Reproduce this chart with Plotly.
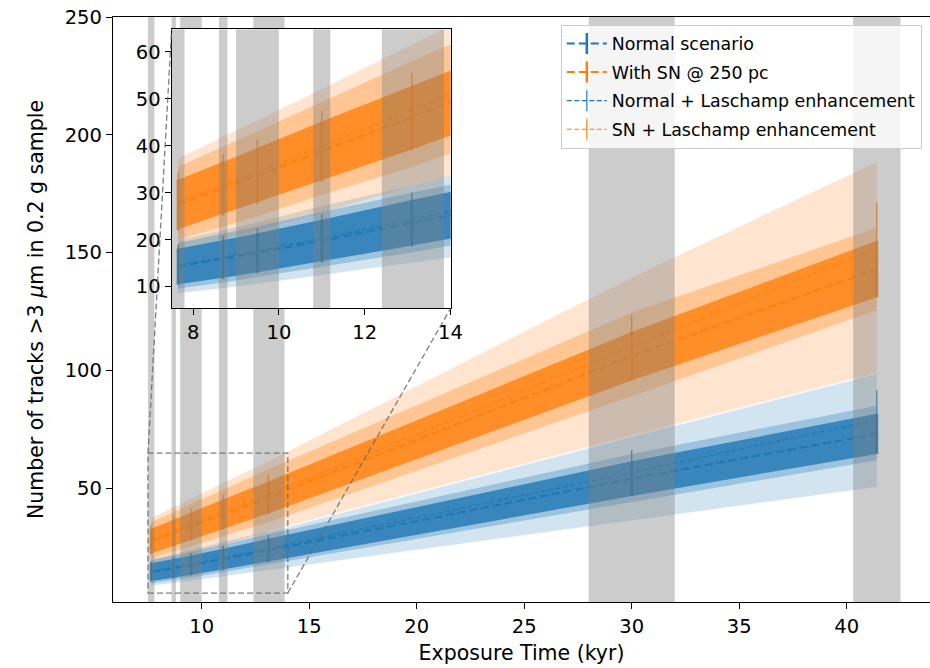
import plotly.graph_objects as go

# ---------------- data ----------------
# exposure times of the samples (kyr)
t_samples = [7.65, 8.7, 9.5, 11.0, 13.1, 30.0, 41.4]
# exposure-age uncertainty intervals (grey bands, kyr)
span_lo = [7.5, 8.6, 9.0, 10.8, 12.4, 28.0, 40.3]
span_hi = [7.8, 8.8, 10.0, 11.2, 13.85, 32.0, 42.5]

# Normal scenario
normal_mid = [14.3, 15.9, 17.2, 19.8, 23.6, 54.0, 73.0]
normal_err = [3.8, 4.0, 4.15, 4.45, 4.85, 7.35, 8.5]
normal_med_lo = [9.6, 10.9, 12.0, 14.2, 17.3, 44.0, 61.8]
normal_med_hi = [19.3, 21.2, 22.8, 25.9, 30.4, 64.5, 85.0]
normal_sys_lo = [8.6, 9.7, 10.6, 12.4, 15.0, 36.2, 50.5]
normal_sys_hi = [19.9, 22.0, 23.7, 27.2, 31.5, 72.0, 98.7]
# Normal + Laschamp enhancement
normal_l_mid = [14.6, 16.2, 17.6, 20.3, 24.3, 56.5, 79.0]
normal_l_err = [4.3, 4.6, 4.8, 5.2, 5.8, 9.5, 12.5]

# With SN @ 250 pc
sn_mid = [27.5, 31.0, 33.7, 38.9, 46.0, 106.0, 143.0]
sn_err = [5.25, 5.55, 5.8, 6.25, 6.8, 10.3, 12.0]
sn_med_lo = [20.0, 22.8, 25.0, 29.5, 35.5, 89.0, 125.5]
sn_med_hi = [35.5, 39.8, 43.0, 49.3, 58.0, 124.5, 160.5]
sn_sys_lo = [17.7, 20.2, 22.0, 25.7, 31.5, 72.0, 98.7]
sn_sys_hi = [37.3, 41.8, 45.4, 52.1, 61.4, 139.4, 188.5]
# SN + Laschamp enhancement
sn_l_mid = [28.0, 31.6, 34.5, 39.9, 47.3, 110.0, 152.0]
sn_l_err = [6.2, 6.6, 6.9, 7.5, 8.3, 13.5, 19.5]

legend_names = ["Normal scenario", "With SN @ 250 pc",
                "Normal + Laschamp enhancement", "SN + Laschamp enhancement"]

# axis ranges
X_RANGE = [5.874, 43.874]
Y_RANGE = [1.6, 250.05]
INSET_X = [7.5, 14.005]
INSET_Y = [5.4, 64.8]
INSET_DOM_X = [0.0718, 0.4133]
INSET_DOM_Y = [0.5021, 0.979]

C0 = "#1f77b4"
C1 = "#ff7f0e"


def rgba(hexc, a):
    h = hexc.lstrip("#")
    r, g, b = int(h[0:2], 16), int(h[2:4], 16), int(h[4:6], 16)
    return f"rgba({r},{g},{b},{a})"


fig = go.Figure()


def band(x, lo, hi, color, alpha, xa, ya):
    fig.add_trace(go.Scatter(
        x=list(x) + list(x)[::-1], y=list(hi) + list(lo)[::-1],
        fill="toself", fillcolor=rgba(color, alpha), mode="lines",
        line=dict(width=0), hoverinfo="skip", showlegend=False,
        xaxis=xa, yaxis=ya))


def errline(x, y, err, color, width, dash, ethick, xa, ya):
    fig.add_trace(go.Scatter(
        x=x, y=y, mode="lines",
        line=dict(color=color, width=width, dash=dash),
        error_y=dict(type="data", array=err, symmetric=True,
                     thickness=ethick, width=0, color=color),
        hoverinfo="skip", showlegend=False, xaxis=xa, yaxis=ya))


def spans(xa, ya, yr):
    xs, ys = [], []
    for a, b in zip(span_lo, span_hi):
        xs += [a, b, b, a, None]
        ys += [yr[0], yr[0], yr[1], yr[1], None]
    fig.add_trace(go.Scatter(
        x=xs, y=ys, fill="toself", fillcolor="rgba(128,128,128,0.4)",
        mode="lines", line=dict(width=0), hoverinfo="skip",
        showlegend=False, xaxis=xa, yaxis=ya))


nd_lo = [m - e for m, e in zip(normal_mid, normal_err)]
nd_hi = [m + e for m, e in zip(normal_mid, normal_err)]
sd_lo = [m - e for m, e in zip(sn_mid, sn_err)]
sd_hi = [m + e for m, e in zip(sn_mid, sn_err)]

for xa, ya, yr in [("x", "y", Y_RANGE), ("x2", "y2", INSET_Y)]:
    band(t_samples, normal_sys_lo, normal_sys_hi, C0, 0.2, xa, ya)
    band(t_samples, sn_sys_lo, sn_sys_hi, C1, 0.2, xa, ya)
    band(t_samples, normal_med_lo, normal_med_hi, C0, 0.3, xa, ya)
    band(t_samples, sn_med_lo, sn_med_hi, C1, 0.3, xa, ya)
    band(t_samples, nd_lo, nd_hi, C0, 0.8, xa, ya)
    band(t_samples, sd_lo, sd_hi, C1, 0.8, xa, ya)
    if xa == "x":
        fig.add_trace(go.Scatter(
            x=t_samples[4:], y=normal_sys_hi[4:], mode="lines",
            line=dict(color="rgba(255,255,255,0.9)", width=1.4),
            hoverinfo="skip", showlegend=False, xaxis=xa, yaxis=ya))
    errline(t_samples, normal_l_mid, normal_l_err, C0, 1.1, "5px,2.5px", 1.2, xa, ya)
    errline(t_samples, sn_l_mid, sn_l_err, C1, 1.1, "5px,2.5px", 1.2, xa, ya)
    errline(t_samples, normal_mid, normal_err, C0, 2.0, "8px,4px", 2.7, xa, ya)
    errline(t_samples, sn_mid, sn_err, C1, 2.0, "8px,4px", 2.7, xa, ya)
    spans(xa, ya, yr)

# legend entries
leg_styles = [(C0, 2.0, "8px,4px", 2.5), (C1, 2.0, "8px,4px", 2.5),
              (C0, 1.1, "5px,2.5px", 1.2), (C1, 1.1, "5px,2.5px", 1.2)]
for i, (name, (col, w, d, et)) in enumerate(zip(legend_names, leg_styles)):
    fig.add_trace(go.Scatter(
        x=[None], y=[None], mode="lines+markers", name=name,
        legendgroup=f"g{i}",
        line=dict(color=col, width=w, dash=d),
        marker=dict(symbol="line-ns-open", size=15,
                    line=dict(color=col, width=et)),
        xaxis="x", yaxis="y"))

# zoom indicator: rectangle + connectors
def main_from_paper(px, py):
    return (X_RANGE[0] + px * (X_RANGE[1] - X_RANGE[0]),
            Y_RANGE[0] + py * (Y_RANGE[1] - Y_RANGE[0]))

gray_line = dict(color="rgba(105,105,105,0.85)", width=1.3, dash="6px,3px")
fig.add_shape(type="rect", xref="x", yref="y", x0=INSET_X[0], x1=INSET_X[1],
              y0=INSET_Y[0], y1=INSET_Y[1], line=gray_line, layer="above")
tlx, tly = main_from_paper(INSET_DOM_X[0], INSET_DOM_Y[1])
brx, bry = main_from_paper(INSET_DOM_X[1], INSET_DOM_Y[0])
fig.add_shape(type="line", xref="x", yref="y", x0=INSET_X[0], y0=INSET_Y[1],
              x1=tlx, y1=tly, line=gray_line, layer="above")
fig.add_shape(type="line", xref="x", yref="y", x0=INSET_X[1], y0=INSET_Y[0],
              x1=brx, y1=bry, line=gray_line, layer="above")
# white background for the inset
fig.add_shape(type="rect", xref="x2", yref="y2", x0=INSET_X[0], x1=INSET_X[1],
              y0=INSET_Y[0], y1=INSET_Y[1], fillcolor="white",
              line=dict(width=0), layer="below")

FONT = "DejaVu Sans"
tickfont = dict(family=FONT, size=19.5, color="black")
axis_common = dict(showgrid=False, zeroline=False, showline=True,
                   linecolor="black", linewidth=1.3, ticks="outside",
                   ticklen=6, tickwidth=1.2, tickcolor="black",
                   tickfont=tickfont, automargin=False,
                   ticklabeloverflow="allow")

fig.update_layout(
    template="none",
    width=930, height=668,
    margin=dict(l=113, r=0, t=17, b=66),
    paper_bgcolor="white", plot_bgcolor="white",
    font=dict(family=FONT, color="black"),
    xaxis=dict(range=X_RANGE, domain=[0, 1], anchor="y", dtick=5, tick0=0,
               mirror=True,
               title=dict(text="Exposure Time (kyr)", standoff=9,
                          font=dict(family=FONT, size=20.5)),
               **axis_common),
    yaxis=dict(range=Y_RANGE, domain=[0, 1], anchor="x", dtick=50, tick0=0,
               mirror=False,
               title=dict(text="Number of tracks >3 <i>μ</i>m in 0.2 g sample",
                          standoff=15, font=dict(family=FONT, size=20.5)),
               **axis_common),
    xaxis2=dict(range=INSET_X, domain=INSET_DOM_X, anchor="y2", dtick=2,
                tick0=0, mirror=True, **axis_common),
    yaxis2=dict(range=INSET_Y, domain=INSET_DOM_Y, anchor="x2", dtick=10,
                tick0=0, mirror=True, **axis_common),
    showlegend=True,
    legend=dict(x=0.99, xanchor="right", y=0.987, yanchor="top",
                bgcolor="rgba(255,255,255,0.8)", bordercolor="#cccccc",
                borderwidth=1, font=dict(family=FONT, size=17.4),
                tracegroupgap=3, itemwidth=40),
)

# remove the default 8 px page margin so the figure fills the window exactly
fig.write_html("out.html",
               config={"displayModeBar": False},
               post_script="document.body.style.margin='0px';"
                           "document.body.style.overflow='hidden';")
